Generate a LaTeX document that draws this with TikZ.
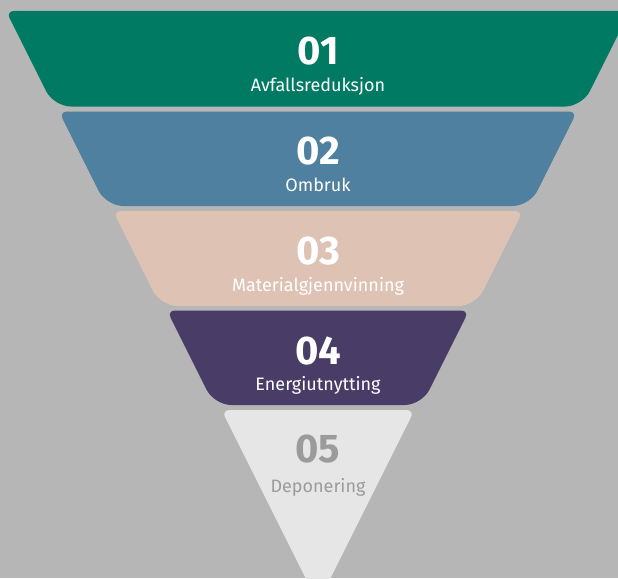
\documentclass[tikz,border=0pt]{standalone}
\usepackage{fontspec}
\setmainfont{Fira Sans}
\usetikzlibrary{calc}
\definecolor{bgc}{HTML}{B6B6B6}
\definecolor{c1}{HTML}{007A63}
\definecolor{c2}{HTML}{50809F}
\definecolor{c3}{HTML}{DEC2B4}
\definecolor{c4}{HTML}{493D67}
\definecolor{c5}{HTML}{E6E6E6}
\definecolor{t5}{HTML}{9B9B9B}
\tikzset{
  num/.style={inner sep=0pt, font=\fontsize{40}{40}\selectfont\bfseries},
  lab/.style={inner sep=0pt, anchor=base, font=\fontsize{18}{18}\selectfont},
}
% rounded corner at #2 coming from #1 going to #3, tangent length #4
\newcommand\pyrcorner[4]{%
  -- ($(#2)!#4!(#1)$) .. controls ($(#2)!0.45*#4!(#1)$) and ($(#2)!0.45*#4!(#3)$) .. ($(#2)!#4!(#3)$)%
}
% #1 name, #2 top y, #3 bottom y, #4 top half width, #5 bottom half width, #6 colour
\newcommand\pyrband[6]{%
  \coordinate (#1tl) at (318-#4,#2);
  \coordinate (#1tr) at (318+#4,#2);
  \coordinate (#1br) at (318+#5,#3);
  \coordinate (#1bl) at (318-#5,#3);
  \fill[#6] ($(#1tl)!8pt!(#1tr)$)
    \pyrcorner{#1tl}{#1tr}{#1br}{8pt}
    \pyrcorner{#1tr}{#1br}{#1bl}{17pt}
    \pyrcorner{#1br}{#1bl}{#1tl}{17pt}
    \pyrcorner{#1bl}{#1tl}{#1tr}{8pt} -- cycle;
}
\begin{document}
\begin{tikzpicture}[x=1pt,y=-1pt]
\fill[bgc] (0,0) rectangle (618,578);
\useasboundingbox (0,0) rectangle (618,578);
\pyrband{b1}{11}{106.5}{312}{264.2}{c1}
\pyrband{b2}{111.5}{206}{259}{211.8}{c2}
\pyrband{b3}{211}{306}{205}{157.5}{c3}
\pyrband{b4}{310.5}{405}{151}{103.8}{c4}
% last layer: triangle
\coordinate (b5tl) at (318-96.5,410);
\coordinate (b5tr) at (318+96.5,410);
\coordinate (b5ap) at (318,603);
\fill[c5] ($(b5tl)!8pt!(b5tr)$)
  \pyrcorner{b5tl}{b5tr}{b5ap}{8pt} -- (b5ap)
  \pyrcorner{b5ap}{b5tl}{b5tr}{8pt} -- cycle;
% texts
\node[num, text=white] (n1) at (318,51) {01};
\node[lab, text=white] (l1) at (318,91.5) {Avfallsreduksjon};
\node[num, text=white] (n2) at (318,151.5) {02};
\node[lab, text=white] (l2) at (318,191.5) {Ombruk};
\node[num, text=white] (n3) at (318,251) {03};
\node[lab, text=white] (l3) at (318,291) {Materialgjennvinning};
\node[num, text=white] (n4) at (318,350.5) {04};
\node[lab, text=white] (l4) at (318,390.5) {Energiutnytting};
\node[num, text=t5] (n5) at (318,449.5) {05};
\node[lab, text=t5] (l5) at (318,492) {Deponering};
\end{tikzpicture}
\end{document}
